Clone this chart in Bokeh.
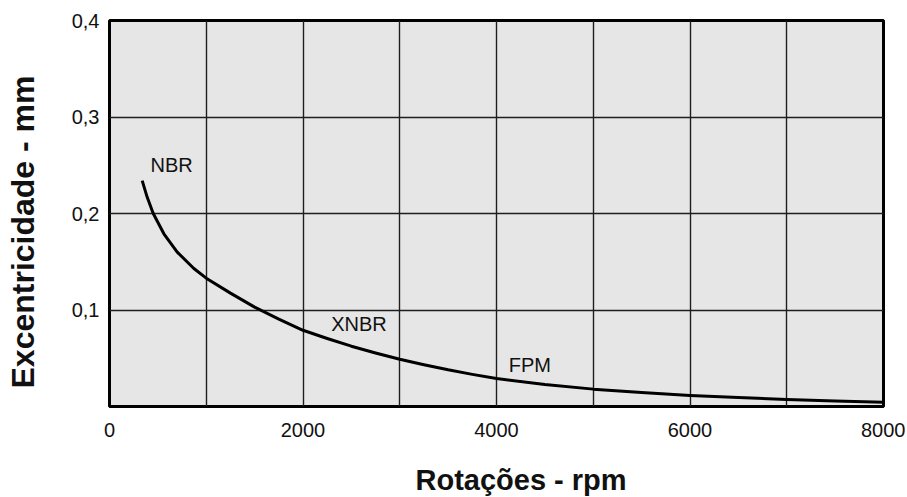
from bokeh.plotting import figure
from bokeh.models import Range1d, FixedTicker, CustomJSTickFormatter, Label, Title, LinearAxis
from bokeh.embed import file_html
from bokeh.resources import INLINE

# Data
rpm = [338, 389, 452, 562, 700, 872, 1000, 1250, 1500, 1750, 2000, 2250, 2500,
       2750, 3000, 3250, 3500, 3750, 4000, 4500, 5000, 5500, 6000, 6500, 7000,
       7500, 8000]
ecc = [0.234, 0.217, 0.200, 0.179, 0.160, 0.143, 0.133, 0.1175, 0.1030, 0.0905,
       0.0790, 0.0705, 0.0625, 0.0555, 0.0490, 0.0433, 0.0380, 0.0333, 0.0290,
       0.0228, 0.0180, 0.0144, 0.0115, 0.0092, 0.0073, 0.0058, 0.0045]

x_ticks = [0, 2000, 4000, 6000, 8000]
y_ticks = [0.1, 0.2, 0.3, 0.4]
x_grid = [1000, 2000, 3000, 4000, 5000, 6000, 7000]
y_grid = [0.1, 0.2, 0.3]

curve_labels = ["NBR", "XNBR", "FPM"]
x_title = "Rotações - rpm"
y_title = "Excentricidade - mm"

FONT = "Liberation Sans"

p = figure(frame_width=774, frame_height=386,
           x_range=Range1d(0, 8000), y_range=Range1d(0, 0.4),
           output_backend="svg", toolbar_location=None,
           min_border_left=109, min_border_right=22,
           min_border_top=20, min_border_bottom=89)

p.background_fill_color = "#e6e6e6"
p.border_fill_color = "white"
p.outline_line_color = "black"
p.outline_line_width = 3

# grid
p.xgrid.ticker = FixedTicker(ticks=x_grid)
p.ygrid.ticker = FixedTicker(ticks=y_grid)
for g in (p.xgrid, p.ygrid):
    g.grid_line_color = "#1e1e1e"
    g.grid_line_width = 1.4
    g.grid_line_alpha = 1.0

# axes
p.xaxis.ticker = FixedTicker(ticks=x_ticks)
p.yaxis.ticker = FixedTicker(ticks=y_ticks)
p.yaxis.formatter = CustomJSTickFormatter(code="return tick.toFixed(1).replace('.', ',');")
for ax in (p.xaxis, p.yaxis):
    ax.axis_line_color = None
    ax.major_tick_line_color = None
    ax.minor_tick_line_color = None
    ax.major_tick_out = 0
    ax.major_tick_in = 0
    ax.major_label_text_font = FONT
    ax.major_label_text_font_size = "20px"
    ax.major_label_text_color = "#111111"
p.xaxis.major_label_standoff = 16
p.yaxis.major_label_standoff = 10

# blank spacer axis between the tick labels and the y title
spacer = LinearAxis(ticker=FixedTicker(ticks=[0.2], minor_ticks=[]),
                    formatter=CustomJSTickFormatter(code="return '';"),
                    axis_line_color=None,
                    major_tick_line_color=None, minor_tick_line_color=None,
                    major_tick_out=26, major_tick_in=0, minor_tick_out=0,
                    major_label_standoff=0)
p.add_layout(spacer, "left")

# curve
p.line(rpm, ecc, line_color="black", line_width=3, line_join="round", line_cap="butt")

# curve labels
label_pos = [(424, 0.250), (2291, 0.086), (4127, 0.043)]
for txt, (lx, ly) in zip(curve_labels, label_pos):
    p.add_layout(Label(x=lx, y=ly, text=txt, text_font=FONT, text_font_size="20px",
                       text_color="#111111", text_align="left", text_baseline="alphabetic"))

# axis titles
p.add_layout(Title(text=x_title, align="left", offset=306, standoff=44,
                   text_font=FONT, text_font_size="29px", text_font_style="bold",
                   text_color="#111111"), "below")
p.add_layout(Title(text=y_title, align="left", offset=18, standoff=4,
                   text_font=FONT, text_font_size="32px", text_font_style="bold",
                   text_color="#111111"), "left")

open("out.html", "w").write(file_html(p, INLINE))
